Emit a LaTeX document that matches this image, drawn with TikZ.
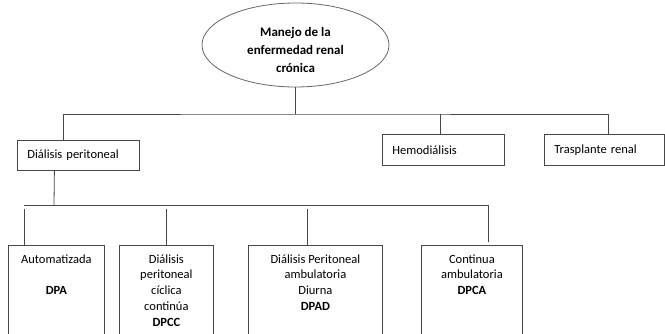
\documentclass[tikz,border=0pt]{standalone}
\usepackage{fontspec}
\setmainfont{Carlito}
\usetikzlibrary{shapes.geometric,positioning}

\begin{document}
\begin{tikzpicture}[x=1pt,y=-1pt,line width=0.8pt]
  \tikzstyle{conn} = [draw=black!72];
  \tikzstyle{box} = [draw=black!72, rectangle, inner sep=0pt, anchor=north west,
                     font=\fontsize{12.5}{15.8}\selectfont];
  \tikzstyle{topbox} = [box, minimum height=30, text width=102, align=left, inner xsep=10pt];
  \tikzstyle{txt} = [font=\fontsize{12.5}{15.8}\selectfont, align=center, inner sep=0pt];
  \useasboundingbox (0,0) rectangle (665,334);
  \clip (0,0) rectangle (665,334);

  % raiz
  \node[draw=black!60, ellipse, minimum width=187, minimum height=84, inner sep=0pt] (root) at (295.5,45) {};
  \node[txt, font=\fontsize{13}{18}\selectfont\bfseries] (roottxt) at (295.5,50)
    {Manejo de la\\enfermedad renal\\crónica};

  % primer nivel
  \node[topbox] (dp) at (17,140) {Diálisis peritoneal};
  \node[topbox, minimum height=31] (hd) at (382,134) {Hemodiálisis};
  \node[topbox, minimum height=31, text width=100] (tr) at (544,134) {Trasplante renal};

  \coordinate (bus) at (295.5,114);
  \draw[conn] (root) -- (bus);
  \draw[conn] ([xshift=-15pt]dp.north) |- (bus) -| ([xshift=4pt]tr.north);
  \draw[conn] ([xshift=-3pt]hd.north) -- ([xshift=-3pt]hd.north |- bus);

  % segundo nivel
  \node[box, minimum width=96, minimum height=110] (dpa) at (8,245) {};
  \node[box, minimum width=94, minimum height=110] (dpcc) at (119,245) {};
  \node[box, minimum width=134, minimum height=110] (dpad) at (248,245) {};
  \node[box, minimum width=101, minimum height=110] (dpca) at (421,245) {};

  \node[txt, below=9pt of dpa.north] (dpatxt) {Automatizada\\[15.8pt]\textbf{DPA}};
  \node[txt, below=9pt of dpcc.north] (dpcctxt)
    {Diálisis\\peritoneal\\cíclica\\continúa\\\textbf{DPCC}};
  \node[txt, below=9pt of dpad.north] (dpadtxt)
    {Diálisis Peritoneal\\ambulatoria\\Diurna\\\textbf{DPAD}};
  \node[txt, below=9pt of dpca.north] (dpcatxt)
    {Continua\\ambulatoria\\\textbf{DPCA}};

  \coordinate (bus2) at (54,205);
  \draw[conn] ([xshift=-24pt]dp.south) -- (bus2);
  \foreach \n/\s in {dpa/-32, dpcc/0, dpad/-8, dpca/16.5}
    \coordinate (d\n) at ([xshift=\s pt]\n.north);
  \draw[conn] (ddpa |- bus2) -- (ddpca |- bus2) -- ([yshift=3pt]ddpca);
  \foreach \n in {dpa,dpcc,dpad}
    \draw[conn] (d\n |- bus2) ++(0,4) -- (d\n);
\end{tikzpicture}
\end{document}
